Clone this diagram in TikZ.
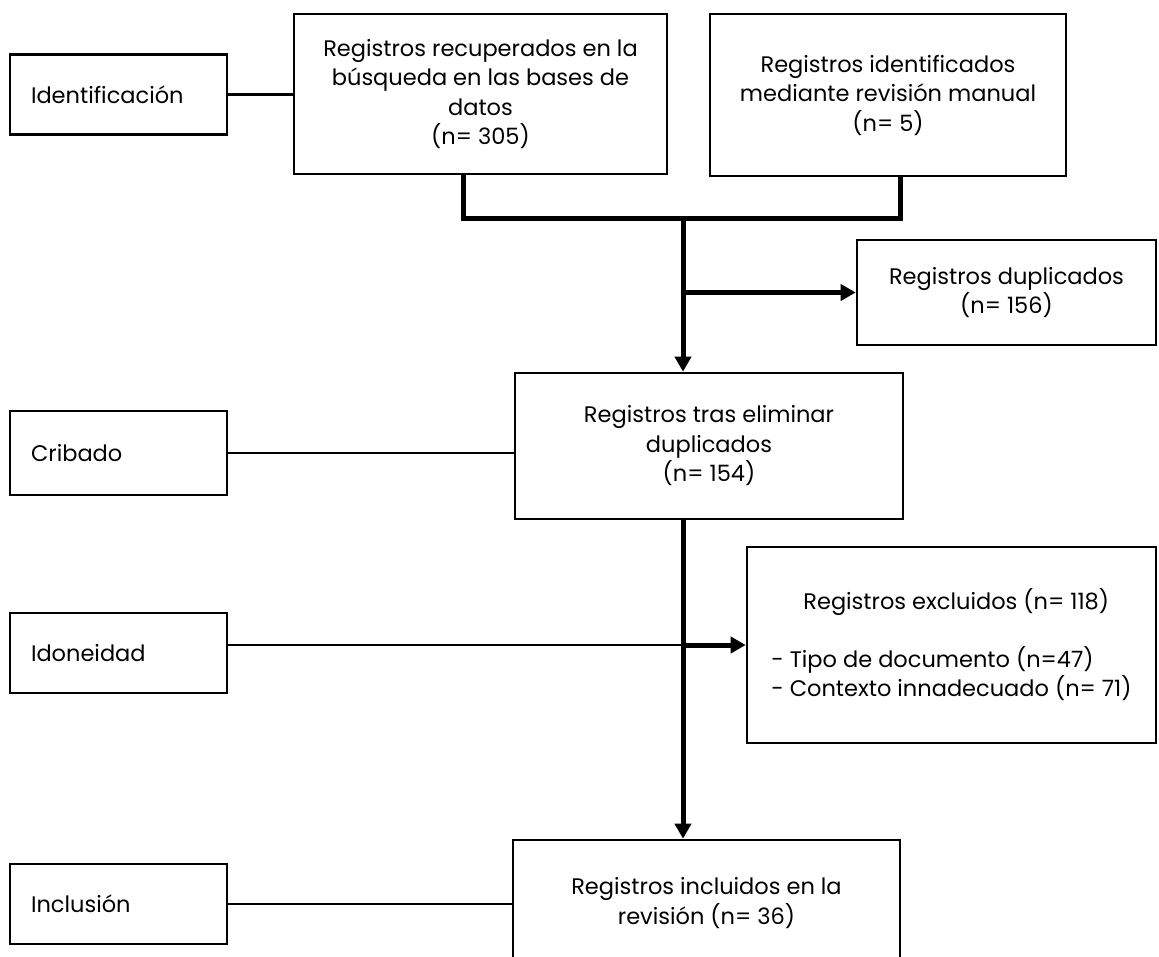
\documentclass[tikz,border=0pt]{standalone}
\usepackage{fontspec}
\setmainfont{Poppins}
\usetikzlibrary{arrows.meta}

\begin{document}
\begin{tikzpicture}[x=1pt,y=-1pt,
	caja/.style={draw,line width=2.6pt,align=center,inner sep=0pt,font=\fontsize{22.5}{29.5}\selectfont},
	etapa/.style={caja,minimum width=217pt,minimum height=80pt,text width=175pt,align=left},
	linea/.style={line width=2.6pt},
	union/.style={line width=5pt},
	flecha/.style={union,-{Triangle[length=15pt,width=16pt]}}]
	\useasboundingbox (0,0) rectangle (1159,956);

	\node(ident) at (118.5,94.5)[etapa]{Identificación};
	\node(crib) at (118.5,453)[etapa,minimum height=84pt]{Cribado};
	\node(idon) at (118.5,653)[etapa]{Idoneidad};
	\node(incl) at (118.5,904)[etapa]{Inclusión};

	\node(busq) at (480.5,94)[caja,minimum width=373pt,minimum height=160pt]{Registros recuperados en la\\búsqueda en las bases de\\datos\\(n= 305)};
	\node(manual) at (888,95)[caja,minimum width=356pt,minimum height=162pt]{Registros identificados\\mediante revisión manual\\(n= 5)};
	\node(dup) at (1006.5,292.5)[caja,minimum width=299pt,minimum height=105pt]{Registros duplicados\\(n= 156)};
	\node(tras) at (709,446)[caja,minimum width=388pt,minimum height=146pt]{Registros tras eliminar\\duplicados\\(n= 154)};
	\node(excl) at (951.5,645)[caja,minimum width=409pt,minimum height=196pt,align=left]{\hspace*{32pt}Registros excluidos (n= 118)\\[28pt]- Tipo de documento (n=47)\\- Contexto innadecuado (n= 71)};
	\node(final) at (706.5,903)[caja,minimum width=387pt,minimum height=126pt]{Registros incluidos en la\\revisión (n= 36)};

	\coordinate(j) at (683,218);

	\draw[linea] (ident.east) -- (ident.east -| busq.west);
	\draw[union] ([xshift=-17.5pt]busq.south) |- (j) -| ([xshift=12pt]manual.south);
	\draw[flecha] (j) -- (j |- tras.north);
	\draw[flecha] (dup.west -| j) -- (dup.west);
	\draw[linea] (crib.east) -- (crib.east -| tras.west);
	\draw[flecha] (j |- tras.south) -- (j |- final.north);
	\draw[linea] (idon.east |- excl.west) -- (excl.west -| j);
	\draw[flecha] (excl.west -| j) -- (excl.west);
	\draw[linea] (incl.east) -- (incl.east -| final.west);
\end{tikzpicture}
\end{document}
